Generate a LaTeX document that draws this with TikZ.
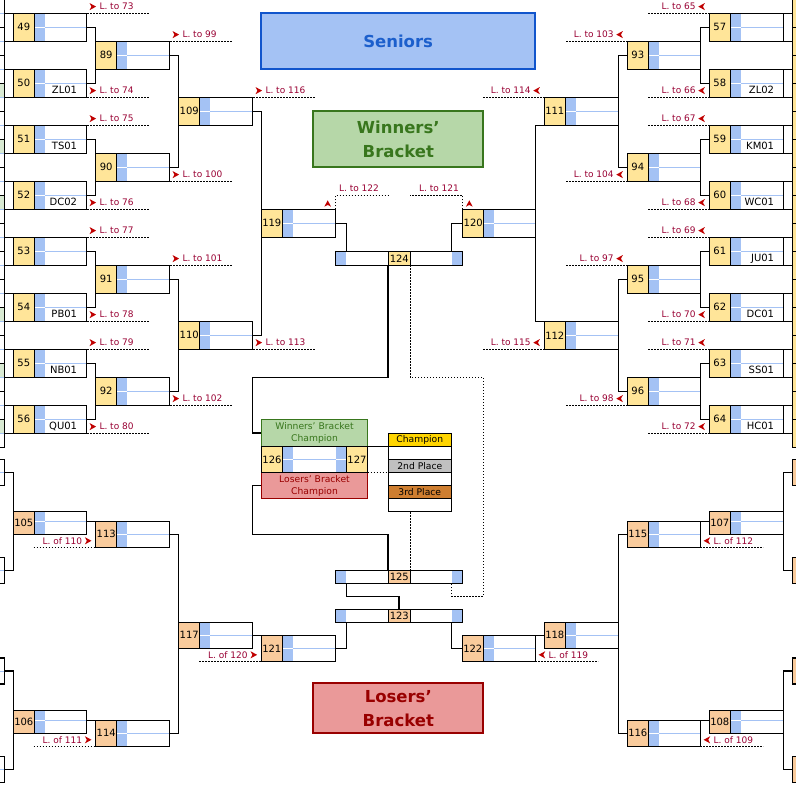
\documentclass[tikz,border=0pt]{standalone}
\usepackage{fontspec}
\setmainfont{DejaVu Sans}
\usetikzlibrary{fit,calc}
\definecolor{numY}{HTML}{FFE599}
\definecolor{numO}{HTML}{F9CB9C}
\definecolor{cellB}{HTML}{A4C2F4}
\definecolor{grnL}{HTML}{D9EAD3}
\definecolor{lblc}{HTML}{990033}
\definecolor{chevc}{HTML}{C00000}
\definecolor{senF}{HTML}{A4C2F4}
\definecolor{senD}{HTML}{1155CC}
\definecolor{senT}{HTML}{1C5FCC}
\definecolor{winF}{HTML}{B6D7A8}
\definecolor{winD}{HTML}{38761D}
\definecolor{losF}{HTML}{EA9999}
\definecolor{losD}{HTML}{990000}
\definecolor{goldc}{HTML}{FFD500}
\definecolor{silverc}{HTML}{C0C0C0}
\definecolor{bronzec}{HTML}{CE7E30}
\tikzset{
 bl/.style={line width=1.2pt,draw=black},
 dotline/.style={line width=0.9pt,draw=black,dash pattern=on 1.3pt off 1.7pt},
 lbl/.style={inner sep=0pt,text=lblc,font=\fontsize{9}{10}\selectfont},
 numtxt/.style={inner sep=0pt,text=black,font=\fontsize{10}{10}\selectfont},
 stacktxt/.style={inner sep=0pt,text=black,font=\fontsize{9.2}{10}\selectfont},
 boxfit/.style={draw=black,line width=1.2pt,inner sep=0pt,outer sep=0pt},
 midb/.style={draw=cellB,line width=0.9pt},
 midw/.style={draw=white,line width=0.9pt},
 titlebox/.style={line width=2pt,inner sep=0pt,outer sep=0pt,anchor=north west,align=center,font=\fontsize{16.5}{24}\selectfont\bfseries},
 champbox/.style={line width=1.2pt,inner sep=0pt,outer sep=0pt,anchor=north west,align=center,font=\fontsize{9.2}{12}\selectfont},
}
% match box: id, xl, xr, ytop, ymid, ybot, number, team, number colour
\newcommand\mbx[9]{%
  \fill[#9] (#2,#4) rectangle (#2+21,#6);
  \fill[cellB] (#2+21,#4) rectangle (#2+31.3,#6);
  \draw[midb] (#2+31.3,#5) -- (#3,#5);
  \draw[midw] (#2+21,#5) -- (#2+31.3,#5);
  \draw[bl] (#2+21,#4) -- (#2+21,#6);
  \node[numtxt] (#1n) at ({#2+10.5},{(#4+#6)/2}) {#7};
  \node[numtxt,anchor=east] (#1t) at ({#3-9},{(#5+#6)/2}) {#8};
  \node[boxfit,fit={(#2,#4) (#3,#6)}] (#1) {};
}
% centre box: id, ytop, ybot, number, colour
\newcommand\cbx[5]{%
  \fill[cellB] (335.7,#2) rectangle (346.3,#3);
  \fill[cellB] (451.7,#2) rectangle (462.3,#3);
  \fill[#5] (388.3,#2) rectangle (410.3,#3);
  \draw[bl] (388.3,#2) -- (388.3,#3) (410.3,#2) -- (410.3,#3);
  \node[numtxt] (#1n) at (399.3,{(#2+#3)/2}) {#4};
  \node[boxfit,fit={(335.7,#2) (462.3,#3)}] (#1) {};
}
\newcommand\chR[1]{\fill[chevc] (#1) ++(-3.2,-3.6) -- ++(6.6,3.6) -- ++(-6.6,3.6) -- ++(1.9,-3.6) -- cycle;}
\newcommand\chL[1]{\fill[chevc] (#1) ++(3.2,-3.6) -- ++(-6.6,3.6) -- ++(6.6,3.6) -- ++(-1.9,-3.6) -- cycle;}
\newcommand\chU[1]{\fill[chevc] (#1) ++(-3.4,3.2) -- ++(3.4,-6.4) -- ++(3.4,6.4) -- ++(-3.4,-1.8) -- cycle;}
\newcommand\labA[4]{\draw[dotline] (#2+1,#3) -- (#2+63,#3); \chR{#2+6.4,#3-6.7} \node[lbl,anchor=west] (#1) at (#2+13,#3-6.7) {#4};}
\newcommand\labB[4]{\draw[dotline] (#2-62,#3) -- (#2,#3); \chR{#2-7.6,#3-6.5} \node[lbl,anchor=east] (#1) at (#2-13.5,#3-6.5) {#4};}
\newcommand\labC[4]{\draw[dotline] (#2-61,#3) -- (#2,#3); \chL{#2-7.6,#3-6.7} \node[lbl,anchor=east] (#1) at (#2-13.5,#3-6.7) {#4};}
\newcommand\labD[4]{\draw[dotline] (#2,#3) -- (#2+63,#3); \chL{#2+6.7,#3-6.5} \node[lbl,anchor=west] (#1) at (#2+13.2,#3-6.5) {#4};}

\begin{document}
\begin{tikzpicture}[x=1pt,y=-1pt]
\useasboundingbox (0,0) rectangle (796,796);
\fill[white] (0,0) rectangle (796,796);
\begin{scope}
\clip (0,0) rectangle (796,796);

% ---------- partial first-round boxes ----------
\foreach \j in {1,2,3,5,6,7}{\pgfmathsetmacro\yg{27.3+56*\j}
  \fill[grnL] (-20,\yg) rectangle (4.3,\yg+14);}
\foreach \k in {0,...,15}{\pgfmathsetmacro\yt{-0.7+28*\k}\pgfmathsetmacro\yb{27.3+28*\k}\pgfmathsetmacro\ym{13.3+28*\k}
  \draw[midb] (-20,\ym) -- (4.3,\ym);
  \node[boxfit,fit={(-20,\yt) (4.3,\yb)}] (fl\k) {};
  \fill[numY] (792.3,\yt) rectangle (813.3,\yb);
  \node[boxfit,fit={(792.3,\yt) (830,\yb)}] (fr\k) {};}
% losers partial boxes
\foreach \nm/\yt in {1/459.3,2/557.3,3/658,4/756.3}{
  \draw[midb] (-20,\yt+13) -- (4.3,\yt+13);
  \node[boxfit,fit={(-20,\yt) (4.3,\yt+26)}] (fll\nm) {};
  \fill[numO] (792.7,\yt) rectangle (813.7,\yt+26);
  \node[boxfit,fit={(792.7,\yt) (830,\yt+26)}] (flr\nm) {};}

% ---------- winners' bracket, left ----------
\mbx{m49}{13.3}{86.3}{13.3}{27.3}{41.3}{49}{}{numY}
\mbx{m50}{13.3}{86.3}{69.3}{83.3}{97.3}{50}{ZL01}{numY}
\mbx{m51}{13.3}{86.3}{125.3}{139.3}{153.3}{51}{TS01}{numY}
\mbx{m52}{13.3}{86.3}{181.3}{195.3}{209.3}{52}{DC02}{numY}
\mbx{m53}{13.3}{86.3}{237.3}{251.3}{265.3}{53}{}{numY}
\mbx{m54}{13.3}{86.3}{293.3}{307.3}{321.3}{54}{PB01}{numY}
\mbx{m55}{13.3}{86.3}{349.3}{363.3}{377.3}{55}{NB01}{numY}
\mbx{m56}{13.3}{86.3}{405.3}{419.3}{433.3}{56}{QU01}{numY}
\mbx{m89}{95.7}{169.3}{41.3}{55.3}{69.3}{89}{}{numY}
\mbx{m90}{95.7}{169.3}{153.3}{167.3}{181.3}{90}{}{numY}
\mbx{m91}{95.7}{169.3}{265.3}{279.3}{293.3}{91}{}{numY}
\mbx{m92}{95.7}{169.3}{377.3}{391.3}{405.3}{92}{}{numY}
\mbx{m109}{178.7}{252.3}{97.3}{111.3}{125.3}{109}{}{numY}
\mbx{m110}{178.7}{252.3}{321.3}{335.3}{349.3}{110}{}{numY}
\mbx{m119}{261.3}{335.7}{209.3}{223.3}{237.3}{119}{}{numY}

% ---------- winners' bracket, right ----------
\mbx{m57}{709.3}{783.3}{13.3}{27.3}{41.3}{57}{}{numY}
\mbx{m58}{709.3}{783.3}{69.3}{83.3}{97.3}{58}{ZL02}{numY}
\mbx{m59}{709.3}{783.3}{125.3}{139.3}{153.3}{59}{KM01}{numY}
\mbx{m60}{709.3}{783.3}{181.3}{195.3}{209.3}{60}{WC01}{numY}
\mbx{m61}{709.3}{783.3}{237.3}{251.3}{265.3}{61}{JU01}{numY}
\mbx{m62}{709.3}{783.3}{293.3}{307.3}{321.3}{62}{DC01}{numY}
\mbx{m63}{709.3}{783.3}{349.3}{363.3}{377.3}{63}{SS01}{numY}
\mbx{m64}{709.3}{783.3}{405.3}{419.3}{433.3}{64}{HC01}{numY}
\mbx{m93}{627.3}{700.3}{41.3}{55.3}{69.3}{93}{}{numY}
\mbx{m94}{627.3}{700.3}{153.3}{167.3}{181.3}{94}{}{numY}
\mbx{m95}{627.3}{700.3}{265.3}{279.3}{293.3}{95}{}{numY}
\mbx{m96}{627.3}{700.3}{377.3}{391.3}{405.3}{96}{}{numY}
\mbx{m111}{544.3}{618.3}{97.3}{111.3}{125.3}{111}{}{numY}
\mbx{m112}{544.3}{618.3}{321.3}{335.3}{349.3}{112}{}{numY}
\mbx{m120}{462.7}{535.7}{209.3}{223.3}{237.3}{120}{}{numY}

% ---------- losers' bracket ----------
\mbx{m105}{13.3}{86.3}{511.3}{521.3}{534.3}{105}{}{numO}
\mbx{m106}{13.3}{86.3}{710.3}{720.3}{733.3}{106}{}{numO}
\mbx{m113}{95.7}{169.3}{521.3}{534.3}{547.3}{113}{}{numO}
\mbx{m114}{95.7}{169.3}{720.3}{733.3}{746.3}{114}{}{numO}
\mbx{m117}{178.7}{252.3}{622.3}{635.3}{648.3}{117}{}{numO}
\mbx{m121}{261.3}{335.7}{635.3}{648.3}{661.3}{121}{}{numO}
\mbx{m122}{462.3}{535.3}{635.3}{648.3}{661.3}{122}{}{numO}
\mbx{m118}{544.3}{618.3}{622.3}{635.3}{648.3}{118}{}{numO}
\mbx{m115}{627.3}{700.3}{521.3}{534.3}{547.3}{115}{}{numO}
\mbx{m116}{627.3}{700.3}{720.3}{733.3}{746.3}{116}{}{numO}
\mbx{m107}{709.3}{783.3}{511.3}{521.3}{534.3}{107}{}{numO}
\mbx{m108}{709.3}{783.3}{710.3}{720.3}{733.3}{108}{}{numO}

% ---------- centre boxes ----------
\cbx{m124}{251.3}{265.3}{124}{numY}
\cbx{m125}{570.7}{583.3}{125}{numO}
\cbx{m123}{609.3}{622.3}{123}{numO}

% ---------- titles ----------
\node[titlebox,draw=senD,fill=senF,text=senT,minimum width=273.7pt,minimum height=56.3pt] (tSen) at (261.3,12.7) {Seniors};
\node[titlebox,draw=winD,fill=winF,text=winD,minimum width=170pt,minimum height=55.7pt] (tWin) at (313.3,111) {Winners'\\Bracket};
\node[titlebox,draw=losD,fill=losF,text=losD,minimum width=170pt,minimum height=50pt] (tLos) at (313.3,683.3) {Losers'\\Bracket};

% ---------- champions ----------
\node[champbox,draw=winD,fill=winF,text=winD,minimum width=106.4pt,minimum height=27.4pt] (mWBC) at (261.3,419.3) {Winners' Bracket\\Champion};
\node[champbox,draw=losD,fill=losF,text=losD,minimum width=106.4pt,minimum height=26.4pt] (mLBC) at (261.3,472.3) {Losers' Bracket\\Champion};
\fill[numY] (261.3,446.7) rectangle (282.7,472.3);
\fill[cellB] (282.7,446.7) rectangle (293,472.3);
\fill[white] (293,446.7) rectangle (336,472.3);
\fill[cellB] (336,446.7) rectangle (346.3,472.3);
\fill[numY] (346.3,446.7) rectangle (367.7,472.3);
\draw[midb] (293,459.3) -- (336,459.3);
\draw[midw] (282.7,459.3) -- (293,459.3) (336,459.3) -- (346.3,459.3);
\draw[bl] (282.7,446.7) -- (282.7,472.3) (346.3,446.7) -- (346.3,472.3);
\node[numtxt] (n126) at (272,459.5) {126};
\node[numtxt] (n127) at (357,459.5) {127};
\node[boxfit,fit={(261.3,446.7) (367.7,472.3)}] (mfin) {};

\fill[goldc] (388.3,433.3) rectangle (451.3,446.7);
\fill[silverc] (388.3,459.3) rectangle (451.3,472.3);
\fill[bronzec] (388.3,485.3) rectangle (451.3,498.7);
\draw[bl] (388.3,446.7) -- (451.3,446.7) (388.3,459.3) -- (451.3,459.3)
  (388.3,472.3) -- (451.3,472.3) (388.3,485.3) -- (451.3,485.3) (388.3,498.7) -- (451.3,498.7);
\node[stacktxt] (sChamp) at (419.8,440.2) {Champion};
\node[stacktxt] (sSecond) at (419.8,466) {2nd Place};
\node[stacktxt] (sThird) at (419.8,492.2) {3rd Place};
\node[boxfit,fit={(388.3,433.3) (451.3,511.3)}] (mstack) {};

% ---------- connectors: first round feeders ----------
\foreach \j in {0,...,7}{\pgfmathtruncatemacro\a{2*\j}\pgfmathtruncatemacro\b{2*\j+1}
  \pgfmathtruncatemacro\m{49+\j}\pgfmathtruncatemacro\r{57+\j}
  \draw[bl] (fl\a.east) -| (m\m.west |- fl\b.east) -- (fl\b.east);
  \draw[bl] (fr\a.west) -| (m\r.east |- fr\b.west) -- (fr\b.west);}
\draw[bl] (fll1.east) -| (m105.west |- fll2.east) -- (fll2.east);
\draw[bl] (fll3.east) -| (m106.west |- fll4.east) -- (fll4.east);
\draw[bl] (flr1.west) -| (m107.east |- flr2.west) -- (flr2.west);
\draw[bl] (flr3.west) -| (m108.east |- flr4.west) -- (flr4.west);

% ---------- connectors: winners ----------
\draw[bl] (m49.east) -| (m89.west |- m50.east) -- (m50.east);
\draw[bl] (m51.east) -| (m90.west |- m52.east) -- (m52.east);
\draw[bl] (m53.east) -| (m91.west |- m54.east) -- (m54.east);
\draw[bl] (m55.east) -| (m92.west |- m56.east) -- (m56.east);
\draw[bl] (m89.east) -| (m109.west |- m90.east) -- (m90.east);
\draw[bl] (m91.east) -| (m110.west |- m92.east) -- (m92.east);
\draw[bl] (m109.east) -| (m119.west |- m110.east) -- (m110.east);
\draw[bl] (m57.west) -| (m93.east |- m58.west) -- (m58.west);
\draw[bl] (m59.west) -| (m94.east |- m60.west) -- (m60.west);
\draw[bl] (m61.west) -| (m95.east |- m62.west) -- (m62.west);
\draw[bl] (m63.west) -| (m96.east |- m64.west) -- (m64.west);
\draw[bl] (m93.west) -| (m111.east |- m94.west) -- (m94.west);
\draw[bl] (m95.west) -| (m112.east |- m96.west) -- (m96.west);
\draw[bl] (m111.south west) -| (m120.east |- m112.north west) -- (m112.north west);
\draw[bl] (m119.east) -| ($(m124.north west)+(10.6,0)$);
\draw[bl] (m120.west) -| ($(m124.north east)+(-10.6,0)$);

% ---------- connectors: losers ----------
\draw[bl] (m105.east |- m113.north) -- (m113.north west);
\draw[bl] (m106.east |- m114.north) -- (m114.north west);
\draw[bl] (m113.east) -| (m117.north west);
\draw[bl] (m114.east) -| (m117.south west);
\draw[bl] (m117.east |- m121.north) -- (m121.north west);
\draw[bl] (m115.north east) -- (m107.west |- m115.north east);
\draw[bl] (m116.north east) -- (m108.west |- m116.north east);
\draw[bl] (m115.west) -| (m118.east |- m116.west) -- (m116.west);
\draw[bl] (m122.north east) -- (m118.west |- m122.north east);
\draw[bl] (m121.east) -| ($(m123.south west)+(10.6,0)$);
\draw[bl] (m122.west) -| ($(m123.south east)+(-10.6,0)$);
\draw[bl] (m123.north) -- ++(0,-13) -| ($(m125.south west)+(10.6,0)$);

% ---------- connectors: finals ----------
\draw[bl] ($(m124.south)+(-11,0)$) |- (252.7,377.3) |- (mWBC.west);
\draw[dotline] ($(m124.south)+(11,0)$) |- (483.3,377.3) |- ($(m125.south east)+(-10.6,13)$) -- ($(m125.south east)+(-10.6,0)$);
\draw[bl] (mLBC.west) -| (252.7,534.3) -| ($(m125.north)+(-11,0)$);
\draw[bl] (mfin.north east) -- (mfin.north east -| mstack.west);
\draw[dotline] (mfin.south east) -- (mfin.south east -| mstack.west);
\draw[dotline] ($(m125.north)+(11,0)$) -- +(0,-59.4);

% ---------- loser-destination labels ----------
\labA{a73}{86.3}{13.3}{L. to 73}
\labA{a74}{86.3}{97.3}{L. to 74}
\labA{a75}{86.3}{125.3}{L. to 75}
\labA{a76}{86.3}{209.3}{L. to 76}
\labA{a77}{86.3}{237.3}{L. to 77}
\labA{a78}{86.3}{321.3}{L. to 78}
\labA{a79}{86.3}{349.3}{L. to 79}
\labA{a80}{86.3}{433.3}{L. to 80}
\labA{a99}{169.3}{41.3}{L. to 99}
\labA{a100}{169.3}{181.3}{L. to 100}
\labA{a101}{169.3}{265.3}{L. to 101}
\labA{a102}{169.3}{405.3}{L. to 102}
\labA{a116}{252.3}{97.3}{L. to 116}
\labA{a113}{252.3}{349.3}{L. to 113}
\labC{c65}{709.3}{13.3}{L. to 65}
\labC{c66}{709.3}{97.3}{L. to 66}
\labC{c67}{709.3}{125.3}{L. to 67}
\labC{c68}{709.3}{209.3}{L. to 68}
\labC{c69}{709.3}{237.3}{L. to 69}
\labC{c70}{709.3}{321.3}{L. to 70}
\labC{c71}{709.3}{349.3}{L. to 71}
\labC{c72}{709.3}{433.3}{L. to 72}
\labC{c103}{627.3}{41.3}{L. to 103}
\labC{c104}{627.3}{181.3}{L. to 104}
\labC{c97}{627.3}{265.3}{L. to 97}
\labC{c98}{627.3}{405.3}{L. to 98}
\labC{c114}{544.3}{97.3}{L. to 114}
\labC{c115}{544.3}{349.3}{L. to 115}
\labB{b110}{95.7}{547.3}{L. of 110}
\labB{b111}{95.7}{746.3}{L. of 111}
\labB{b120}{261.3}{661.3}{L. of 120}
\labD{d112}{700.3}{547.3}{L. of 112}
\labD{d109}{700.3}{746.3}{L. of 109}
\labD{d119}{535.3}{661.3}{L. of 119}

\draw[dotline] (m119.north east) -- ++(0,-14) -- ++(53.3,0);
\draw[dotline] (m120.north west) -- ++(0,-14) -- ++(-52.7,0);
\node[lbl] (l122) at (359,188.3) {L. to 122};
\node[lbl] (l121) at (439,188.3) {L. to 121};
\chU{327.7,203.5}
\chU{469.3,203.5}
\end{scope}
\end{tikzpicture}
\end{document}
